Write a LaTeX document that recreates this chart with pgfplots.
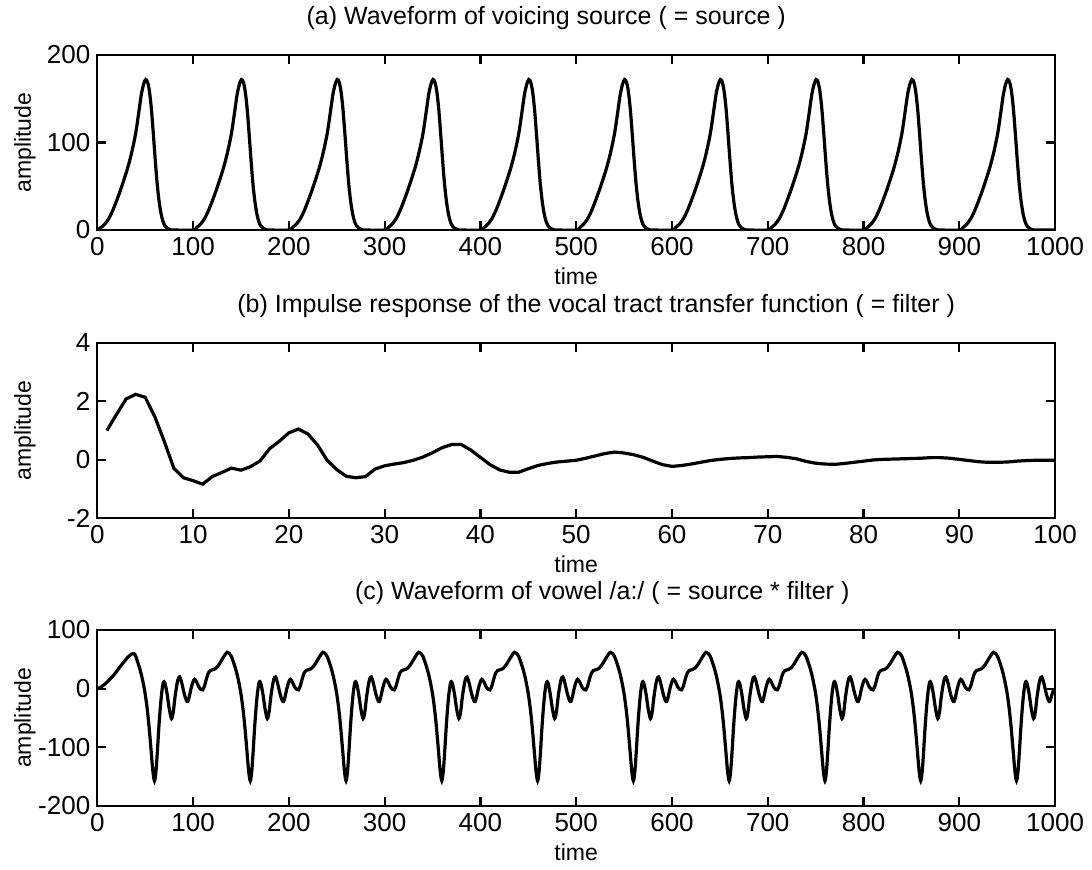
\documentclass[border=0pt]{standalone}
\usepackage{fontspec}
\setmainfont{Liberation Sans}
\usepackage{pgfplots}
\pgfplotsset{compat=1.18}
\pgfplotsset{panel/.style={
  scale only axis, width=478.9pt, anchor=south west,
  tick align=inside, major tick length=4.5pt,
  axis line style={line width=1.1pt},
  every tick/.style={line width=1.1pt, black},
  tick label style={font=\fontsize{13}{13}\selectfont},
  /pgf/number format/assume math mode=true,
  /pgf/number format/1000 sep={},
  label style={font=\fontsize{11.5}{12}\selectfont},
  title style={font=\fontsize{12.5}{13}\selectfont, at={(axis description cs:0.5,1)}, anchor=base, yshift=9.5pt},
  xlabel style={at={(axis description cs:0.5,0)}, anchor=base, yshift=-27pt},
  ylabel style={at={(axis description cs:-0.0755,0.5)}, anchor=center},
  xlabel={time}, ylabel={amplitude},
}}
\begin{document}
\begin{tikzpicture}
\path[use as bounding box] (0pt,0pt) rectangle (546pt,-434.5pt);
% ---------------- (a)
\begin{axis}[panel, at={(48.65pt,-115pt)}, height=87.5pt,
  xmin=0, xmax=1000, ymin=0, ymax=200,
  xtick={0,100,...,1000}, ytick={0,100,200},
  title style={xshift=-15pt},
  title={(a) Waveform of voicing source ( = source )}]
\addplot[smooth, black, line width=1.6pt] coordinates {
(0,0)(4,3)(8,7)(12,13)(16,22)(20,33)(24,45)(28,58)(32,72)(36,89)(40,110)(43,132)(46,155)(48.5,167)(50.5,172)(52.5,169)(54.5,158)(56.5,138)(58.5,110)(60.5,80)(62.5,53)(64.5,33)(66.5,19)(68.5,10)(70.5,5)(73,2)(76,0.5)(80,0)
(100,0)(104,3)(108,7)(112,13)(116,22)(120,33)(124,45)(128,58)(132,72)(136,89)(140,110)(143,132)(146,155)(148.5,167)(150.5,172)(152.5,169)(154.5,158)(156.5,138)(158.5,110)(160.5,80)(162.5,53)(164.5,33)(166.5,19)(168.5,10)(170.5,5)(173,2)(176,0.5)(180,0)
(200,0)(204,3)(208,7)(212,13)(216,22)(220,33)(224,45)(228,58)(232,72)(236,89)(240,110)(243,132)(246,155)(248.5,167)(250.5,172)(252.5,169)(254.5,158)(256.5,138)(258.5,110)(260.5,80)(262.5,53)(264.5,33)(266.5,19)(268.5,10)(270.5,5)(273,2)(276,0.5)(280,0)
(300,0)(304,3)(308,7)(312,13)(316,22)(320,33)(324,45)(328,58)(332,72)(336,89)(340,110)(343,132)(346,155)(348.5,167)(350.5,172)(352.5,169)(354.5,158)(356.5,138)(358.5,110)(360.5,80)(362.5,53)(364.5,33)(366.5,19)(368.5,10)(370.5,5)(373,2)(376,0.5)(380,0)
(400,0)(404,3)(408,7)(412,13)(416,22)(420,33)(424,45)(428,58)(432,72)(436,89)(440,110)(443,132)(446,155)(448.5,167)(450.5,172)(452.5,169)(454.5,158)(456.5,138)(458.5,110)(460.5,80)(462.5,53)(464.5,33)(466.5,19)(468.5,10)(470.5,5)(473,2)(476,0.5)(480,0)
(500,0)(504,3)(508,7)(512,13)(516,22)(520,33)(524,45)(528,58)(532,72)(536,89)(540,110)(543,132)(546,155)(548.5,167)(550.5,172)(552.5,169)(554.5,158)(556.5,138)(558.5,110)(560.5,80)(562.5,53)(564.5,33)(566.5,19)(568.5,10)(570.5,5)(573,2)(576,0.5)(580,0)
(600,0)(604,3)(608,7)(612,13)(616,22)(620,33)(624,45)(628,58)(632,72)(636,89)(640,110)(643,132)(646,155)(648.5,167)(650.5,172)(652.5,169)(654.5,158)(656.5,138)(658.5,110)(660.5,80)(662.5,53)(664.5,33)(666.5,19)(668.5,10)(670.5,5)(673,2)(676,0.5)(680,0)
(700,0)(704,3)(708,7)(712,13)(716,22)(720,33)(724,45)(728,58)(732,72)(736,89)(740,110)(743,132)(746,155)(748.5,167)(750.5,172)(752.5,169)(754.5,158)(756.5,138)(758.5,110)(760.5,80)(762.5,53)(764.5,33)(766.5,19)(768.5,10)(770.5,5)(773,2)(776,0.5)(780,0)
(800,0)(804,3)(808,7)(812,13)(816,22)(820,33)(824,45)(828,58)(832,72)(836,89)(840,110)(843,132)(846,155)(848.5,167)(850.5,172)(852.5,169)(854.5,158)(856.5,138)(858.5,110)(860.5,80)(862.5,53)(864.5,33)(866.5,19)(868.5,10)(870.5,5)(873,2)(876,0.5)(880,0)
(900,0)(904,3)(908,7)(912,13)(916,22)(920,33)(924,45)(928,58)(932,72)(936,89)(940,110)(943,132)(946,155)(948.5,167)(950.5,172)(952.5,169)(954.5,158)(956.5,138)(958.5,110)(960.5,80)(962.5,53)(964.5,33)(966.5,19)(968.5,10)(970.5,5)(973,2)(976,0.5)(980,0)
(1000,0)
};
\end{axis}
% ---------------- (b)
\begin{axis}[panel, at={(48.65pt,-259pt)}, height=87.5pt,
  xmin=0, xmax=100, ymin=-2, ymax=4,
  xtick={0,10,...,100}, ytick={-2,0,2,4}, yticklabels={-2,0,2,4},
  title style={xshift=10pt},
  title={(b) Impulse response of the vocal tract transfer function ( = filter )}]
\addplot[black, line width=1.6pt] coordinates {
(1,1.00)(2,1.55)(3,2.08)(4,2.24)(5,2.14)(6,1.48)(7,0.62)(8,-0.30)(9,-0.62)(10,-0.72)
(11,-0.84)(12,-0.58)(13,-0.44)(14,-0.29)(15,-0.36)(16,-0.24)(17,-0.04)(18,0.38)(19,0.63)(20,0.92)
(21,1.05)(22,0.88)(23,0.50)(24,-0.02)(25,-0.34)(26,-0.57)(27,-0.62)(28,-0.58)(29,-0.32)(30,-0.21)
(31,-0.15)(32,-0.10)(33,-0.02)(34,0.09)(35,0.24)(36,0.41)(37,0.52)(38,0.52)(39,0.33)(40,0.08)
(41,-0.17)(42,-0.35)(43,-0.43)(44,-0.43)(45,-0.31)(46,-0.20)(47,-0.13)(48,-0.08)(49,-0.05)(50,-0.02)
(51,0.05)(52,0.13)(53,0.21)(54,0.26)(55,0.23)(56,0.17)(57,0.08)(58,-0.05)(59,-0.17)(60,-0.23)
(61,-0.20)(62,-0.15)(63,-0.09)(64,-0.03)(65,0.01)(66,0.04)(67,0.06)(68,0.07)(69,0.09)(70,0.10)
(71,0.11)(72,0.08)(73,0.03)(74,-0.06)(75,-0.12)(76,-0.15)(77,-0.16)(78,-0.13)(79,-0.09)(80,-0.05)
(81,-0.01)(82,0.01)(83,0.02)(84,0.03)(85,0.04)(86,0.05)(87,0.07)(88,0.07)(89,0.05)(90,0.01)
(91,-0.03)(92,-0.07)(93,-0.09)(94,-0.09)(95,-0.08)(96,-0.05)(97,-0.03)(98,-0.02)(99,-0.02)(100,-0.02)
};
\end{axis}
% ---------------- (c)
\begin{axis}[panel, at={(48.65pt,-403pt)}, height=88pt,
  xmin=0, xmax=1000, ymin=-200, ymax=100,
  xtick={0,100,...,1000}, ytick={-200,-100,0,100}, yticklabels={-200,-100,0,100},
  title style={xshift=13pt},
  title={(c) Waveform of vowel /a:/ ( = source * filter )}]
\addplot[smooth, black, line width=1.6pt] coordinates {
(0,0)(4,3)(8,8)(12,14)(16,21)(20,29)(24,38)(28,46)(32,54)(35,58)(38,60)(40,56)(42,46)(44,36)(46,24)(48,9)(50,-9)(52,-33)(54,-64)(56,-102)(58,-140)(59.7,-157)(61.3,-140)(62.8,-105)(64.3,-65)(65.8,-32)(67.3,-6)(68.7,9)(69.7,12)(71,7)(73,-10)(75,-33)(77,-49)(78,-50)(79.5,-38)(81,-16)(83,6)(84.5,17)(86,20)(87.5,14)(89,4)(91,-10)(93,-20)(94.5,-22)(96,-14)(98,1)
(100,12)(101.5,16)(103.5,12)(106,3)(108,-1)(110,-2)(112,5)(114,17)(116,27)(118,31)(120,32)(122,33)(124,35)(127,41)(130,49)(133,57)(135.5,62)(138,60)(140,55)(142,46)(144,36)(146,24)(148,9)(150,-9)(152,-33)(154,-64)(156,-102)(158,-140)(159.7,-157)(161.3,-140)(162.8,-105)(164.3,-65)(165.8,-32)(167.3,-6)(168.7,9)(169.7,12)(171,7)(173,-10)(175,-33)(177,-49)(178,-50)(179.5,-38)(181,-16)(183,6)(184.5,17)(186,20)(187.5,14)(189,4)(191,-10)(193,-20)(194.5,-22)(196,-14)(198,1)
(200,12)(201.5,16)(203.5,12)(206,3)(208,-1)(210,-2)(212,5)(214,17)(216,27)(218,31)(220,32)(222,33)(224,35)(227,41)(230,49)(233,57)(235.5,62)(238,60)(240,55)(242,46)(244,36)(246,24)(248,9)(250,-9)(252,-33)(254,-64)(256,-102)(258,-140)(259.7,-157)(261.3,-140)(262.8,-105)(264.3,-65)(265.8,-32)(267.3,-6)(268.7,9)(269.7,12)(271,7)(273,-10)(275,-33)(277,-49)(278,-50)(279.5,-38)(281,-16)(283,6)(284.5,17)(286,20)(287.5,14)(289,4)(291,-10)(293,-20)(294.5,-22)(296,-14)(298,1)
(300,12)(301.5,16)(303.5,12)(306,3)(308,-1)(310,-2)(312,5)(314,17)(316,27)(318,31)(320,32)(322,33)(324,35)(327,41)(330,49)(333,57)(335.5,62)(338,60)(340,55)(342,46)(344,36)(346,24)(348,9)(350,-9)(352,-33)(354,-64)(356,-102)(358,-140)(359.7,-157)(361.3,-140)(362.8,-105)(364.3,-65)(365.8,-32)(367.3,-6)(368.7,9)(369.7,12)(371,7)(373,-10)(375,-33)(377,-49)(378,-50)(379.5,-38)(381,-16)(383,6)(384.5,17)(386,20)(387.5,14)(389,4)(391,-10)(393,-20)(394.5,-22)(396,-14)(398,1)
(400,12)(401.5,16)(403.5,12)(406,3)(408,-1)(410,-2)(412,5)(414,17)(416,27)(418,31)(420,32)(422,33)(424,35)(427,41)(430,49)(433,57)(435.5,62)(438,60)(440,55)(442,46)(444,36)(446,24)(448,9)(450,-9)(452,-33)(454,-64)(456,-102)(458,-140)(459.7,-157)(461.3,-140)(462.8,-105)(464.3,-65)(465.8,-32)(467.3,-6)(468.7,9)(469.7,12)(471,7)(473,-10)(475,-33)(477,-49)(478,-50)(479.5,-38)(481,-16)(483,6)(484.5,17)(486,20)(487.5,14)(489,4)(491,-10)(493,-20)(494.5,-22)(496,-14)(498,1)
(500,12)(501.5,16)(503.5,12)(506,3)(508,-1)(510,-2)(512,5)(514,17)(516,27)(518,31)(520,32)(522,33)(524,35)(527,41)(530,49)(533,57)(535.5,62)(538,60)(540,55)(542,46)(544,36)(546,24)(548,9)(550,-9)(552,-33)(554,-64)(556,-102)(558,-140)(559.7,-157)(561.3,-140)(562.8,-105)(564.3,-65)(565.8,-32)(567.3,-6)(568.7,9)(569.7,12)(571,7)(573,-10)(575,-33)(577,-49)(578,-50)(579.5,-38)(581,-16)(583,6)(584.5,17)(586,20)(587.5,14)(589,4)(591,-10)(593,-20)(594.5,-22)(596,-14)(598,1)
(600,12)(601.5,16)(603.5,12)(606,3)(608,-1)(610,-2)(612,5)(614,17)(616,27)(618,31)(620,32)(622,33)(624,35)(627,41)(630,49)(633,57)(635.5,62)(638,60)(640,55)(642,46)(644,36)(646,24)(648,9)(650,-9)(652,-33)(654,-64)(656,-102)(658,-140)(659.7,-157)(661.3,-140)(662.8,-105)(664.3,-65)(665.8,-32)(667.3,-6)(668.7,9)(669.7,12)(671,7)(673,-10)(675,-33)(677,-49)(678,-50)(679.5,-38)(681,-16)(683,6)(684.5,17)(686,20)(687.5,14)(689,4)(691,-10)(693,-20)(694.5,-22)(696,-14)(698,1)
(700,12)(701.5,16)(703.5,12)(706,3)(708,-1)(710,-2)(712,5)(714,17)(716,27)(718,31)(720,32)(722,33)(724,35)(727,41)(730,49)(733,57)(735.5,62)(738,60)(740,55)(742,46)(744,36)(746,24)(748,9)(750,-9)(752,-33)(754,-64)(756,-102)(758,-140)(759.7,-157)(761.3,-140)(762.8,-105)(764.3,-65)(765.8,-32)(767.3,-6)(768.7,9)(769.7,12)(771,7)(773,-10)(775,-33)(777,-49)(778,-50)(779.5,-38)(781,-16)(783,6)(784.5,17)(786,20)(787.5,14)(789,4)(791,-10)(793,-20)(794.5,-22)(796,-14)(798,1)
(800,12)(801.5,16)(803.5,12)(806,3)(808,-1)(810,-2)(812,5)(814,17)(816,27)(818,31)(820,32)(822,33)(824,35)(827,41)(830,49)(833,57)(835.5,62)(838,60)(840,55)(842,46)(844,36)(846,24)(848,9)(850,-9)(852,-33)(854,-64)(856,-102)(858,-140)(859.7,-157)(861.3,-140)(862.8,-105)(864.3,-65)(865.8,-32)(867.3,-6)(868.7,9)(869.7,12)(871,7)(873,-10)(875,-33)(877,-49)(878,-50)(879.5,-38)(881,-16)(883,6)(884.5,17)(886,20)(887.5,14)(889,4)(891,-10)(893,-20)(894.5,-22)(896,-14)(898,1)
(900,12)(901.5,16)(903.5,12)(906,3)(908,-1)(910,-2)(912,5)(914,17)(916,27)(918,31)(920,32)(922,33)(924,35)(927,41)(930,49)(933,57)(935.5,62)(938,60)(940,55)(942,46)(944,36)(946,24)(948,9)(950,-9)(952,-33)(954,-64)(956,-102)(958,-140)(959.7,-157)(961.3,-140)(962.8,-105)(964.3,-65)(965.8,-32)(967.3,-6)(968.7,9)(969.7,12)(971,7)(973,-10)(975,-33)(977,-49)(978,-50)(979.5,-38)(981,-16)(983,6)(984.5,17)(986,20)(987.5,14)(989,4)(991,-10)(993,-20)(994.5,-22)(996,-14)(998,-4)(1000,-2)
};
\end{axis}
\end{tikzpicture}
\end{document}
